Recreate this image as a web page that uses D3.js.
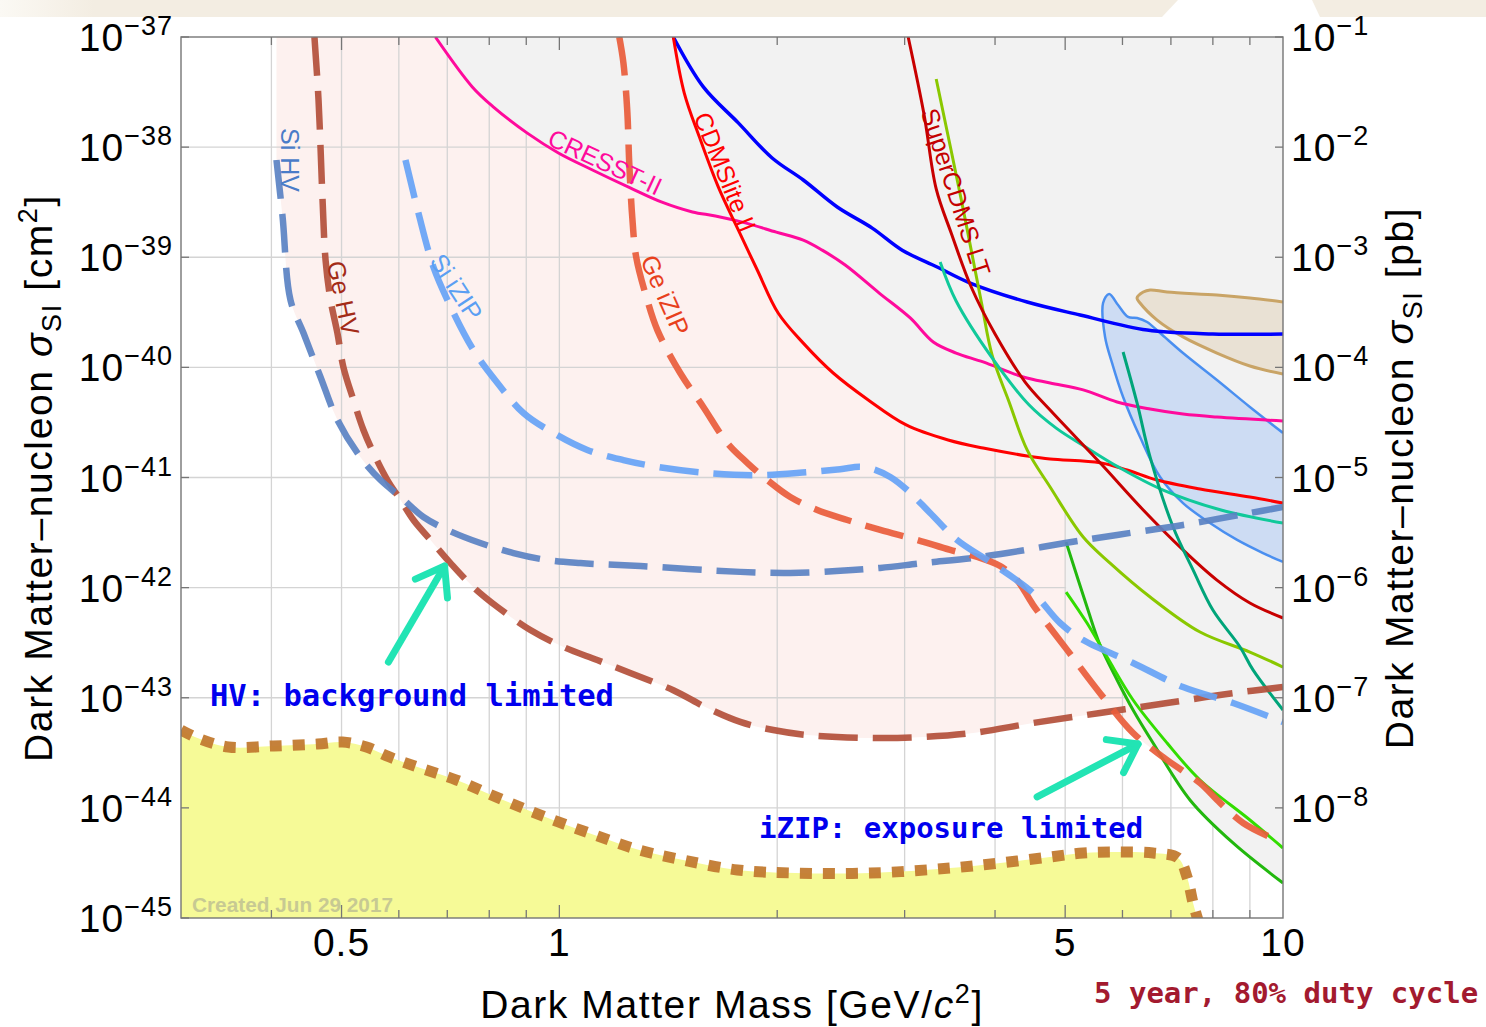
<!DOCTYPE html>
<html>
<head>
<meta charset="utf-8">
<script src="https://cdn.jsdelivr.net/npm/d3@7"></script>
<style>
  html, body { margin: 0; padding: 0; background: #fff; }
  svg { display: block; }
</style>
</head>
<body>
<svg id="chart" width="1486" height="1027"></svg>
<script>
// ---------- Data: [mass in GeV/c^2, spin-independent cross section in cm^2] ----------

// existing exclusion limits
const cresstII = [[0.674,1e-37],[0.758,3.52e-38],[0.811,2.31e-38],[0.903,1.34e-38],[0.997,8.85e-39],[1.111,6.20e-39],[1.253,4.26e-39],[1.383,3.18e-39],[1.527,2.58e-39],[1.643,2.37e-39],[1.807,2.05e-39],[1.994,1.69e-39],[2.173,1.43e-39],[2.308,1.16e-39],[2.483,8.5e-40],[2.767,4.73e-40],[3.054,2.81e-40],[3.286,1.70e-40],[3.534,1.35e-40],[3.851,1.12e-40],[4.375,8.18e-41],[4.766,7.21e-41],[5.295,6.24e-41],[5.898,4.85e-41],[6.552,4.19e-41],[7.275,3.77e-41],[8.104,3.54e-41],[10,3.26e-41]];
const blueLimit = [[1.437,1e-37],[1.581,3.52e-38],[1.767,1.66e-38],[1.968,7.97e-39],[2.173,5.03e-39],[2.421,2.86e-39],[2.706,1.84e-39],[2.977,1.16e-39],[3.327,8.15e-40],[3.696,5.83e-40],[4.43,3.92e-40],[5.244,2.99e-40],[6.49,2.18e-40],[8.0,2.01e-40],[10,2.01e-40]];
const cdmsliteII = [[1.437,1e-37],[1.488,3.10e-38],[1.561,1.24e-38],[1.658,4.35e-39],[1.767,1.77e-39],[1.877,7.66e-40],[2.006,3.12e-40],[2.173,1.66e-40],[2.39,8.89e-41],[2.672,5.06e-41],[3.015,3.0e-41],[3.445,2.19e-41],[3.851,1.85e-41],[4.43,1.57e-41],[4.766,1.47e-41],[5.587,1.36e-41],[6.09,1.17e-41],[6.699,9.48e-42],[7.68,7.87e-42],[9.0,6.65e-42],[10,5.86e-42]];
const superCdmsLT = [[3.034,1e-37],[3.192,1.96e-38],[3.317,4.17e-39],[3.479,1.66e-39],[3.708,5.37e-40],[4.0,2.01e-40],[4.402,7.36e-41],[4.766,4.10e-41],[5.587,1.36e-41],[6.41,5.07e-42],[7.275,2.20e-42],[8.104,1.17e-42],[9.0,7.25e-43],[10,5.30e-43]];
const limeLimit = [[3.317,4.16e-38],[3.591,3.38e-39],[3.827,4.01e-40],[3.963,1.29e-40],[4.183,4.85e-41],[4.43,1.78e-41],[4.766,8.2e-42],[5.295,2.88e-42],[5.768,1.67e-42],[6.552,8.22e-43],[7.68,3.95e-43],[9.0,2.60e-43],[10,1.90e-43]];
const tealLimit = [[3.359,9.06e-40],[3.534,4.01e-40],[3.963,1.22e-40],[4.459,4.55e-41],[4.859,2.81e-41],[5.311,1.93e-41],[5.917,1.25e-41],[6.83,7.69e-42],[8.21,5.07e-42],[10,3.86e-42]];
const darkTealLimit = [[6.012,1.38e-40],[6.285,4.75e-41],[6.552,1.53e-41],[7.049,3.55e-42],[7.511,1.45e-42],[8.0,6.26e-43],[8.722,2.89e-43],[9.09,1.79e-43],[10,7.74e-44]];
const greenLimitA = [[5.015,2.59e-42],[5.36,6.67e-43],[5.587,3.01e-43],[5.898,1.45e-43],[6.206,7.74e-44],[6.614,3.88e-44],[7.438,1.18e-44],[8.53,4.80e-45],[10,2.08e-45]];
const greenLimitB = [[5.015,9.12e-43],[5.36,4.77e-43],[5.713,2.34e-43],[6.206,9.54e-44],[6.915,3.88e-44],[7.68,1.79e-44],[9.0,7.76e-45],[10,4.32e-45]];

// signal contours (outline from right end of the upper edge, round the tip, back along the lower edge)
const blueContour = [[10,2.54e-41],[9.0,4.37e-41],[8.104,7.68e-41],[7.275,1.35e-40],[6.763,2.05e-40],[6.489,2.58e-40],[6.285,2.81e-40],[6.108,2.87e-40],[5.917,3.68e-40],[5.751,4.64e-40],[5.641,3.84e-40],[5.677,1.89e-40],[5.804,1.10e-40],[6.012,5.38e-41],[6.345,2.33e-41],[6.763,1.01e-41],[7.275,5.86e-42],[7.926,3.86e-42],[8.642,2.71e-42],[9.384,2.06e-42],[10,1.71e-42]];
const tanContour = [[10,3.92e-40],[9.0,4.27e-40],[8.104,4.54e-40],[6.915,4.83e-40],[6.552,5.05e-40],[6.41,4.83e-40],[6.285,4.27e-40],[6.345,3.84e-40],[6.699,2.69e-40],[7.275,1.89e-40],[8.104,1.35e-40],[9.0,1.03e-40],[10,8.71e-41]];

// SNOLAB projected sensitivities
const siHV = [[0.4065,7.64e-39],[0.4145,2.32e-39],[0.425,4.09e-40],[0.443,2.05e-40],[0.4676,8.18e-41],[0.4935,3.33e-41],[0.531,1.53e-41],[0.566,9.48e-42],[0.6033,6.65e-42],[0.6489,4.38e-42],[0.7003,3.34e-42],[0.7776,2.54e-42],[0.8641,2.06e-42],[0.9625,1.78e-42],[1.069,1.67e-42],[1.294,1.57e-42],[1.778,1.39e-42],[2.085,1.36e-42],[2.444,1.42e-42],[2.776,1.51e-42],[3.183,1.67e-42],[3.731,1.86e-42],[4.157,2.06e-42],[5.0,2.54e-42],[5.898,3.01e-42],[7.275,3.71e-42],[9.0,4.76e-42],[10,5.40e-42]];
const geHV = [[0.4587,1e-37],[0.4647,2.68e-38],[0.4707,3.31e-39],[0.4752,9.44e-40],[0.4828,4.09e-40],[0.4935,2.05e-40],[0.5029,1.01e-40],[0.5193,5.06e-41],[0.5361,2.70e-41],[0.5535,1.67e-41],[0.5785,9.48e-42],[0.6033,6.25e-42],[0.6286,4.11e-42],[0.6635,2.71e-42],[0.7071,1.67e-42],[0.7606,1.01e-42],[0.8212,6.67e-43],[0.9118,4.12e-43],[1.013,2.89e-43],[1.128,2.20e-43],[1.253,1.68e-43],[1.437,1.17e-43],[1.601,8.07e-44],[1.778,6.03e-44],[1.975,5.09e-44],[2.2,4.59e-44],[2.715,4.31e-44],[3.183,4.40e-44],[3.731,4.79e-44],[4.516,5.90e-44],[5.587,7.28e-44],[6.915,8.96e-44],[8.53,1.10e-43],[10,1.25e-43]];
const siIZIP = [[0.6128,7.64e-39],[0.6386,2.52e-39],[0.6698,8.15e-40],[0.7003,4.09e-40],[0.7606,1.44e-40],[0.8212,7.21e-41],[0.8919,3.85e-41],[0.981,2.54e-41],[1.093,1.78e-41],[1.226,1.44e-41],[1.366,1.25e-41],[1.601,1.10e-41],[1.877,1.05e-41],[2.2,1.12e-41],[2.444,1.19e-41],[2.604,1.25e-41],[2.715,1.19e-41],[2.866,1.01e-41],[3.025,7.69e-42],[3.254,4.76e-42],[3.545,2.71e-42],[3.938,1.71e-42],[4.516,8.93e-43],[4.92,4.77e-43],[5.295,3.34e-43],[6.206,2.07e-43],[7.275,1.25e-43],[8.53,8.96e-44],[10,6.03e-44]];
const geIZIP = [[1.21,1e-37],[1.226,5.81e-38],[1.241,2.17e-38],[1.249,7.18e-39],[1.261,2.32e-39],[1.277,1.0e-39],[1.319,4.36e-40],[1.366,2.18e-40],[1.469,8.89e-41],[1.581,4.37e-41],[1.706,2.06e-41],[1.818,1.36e-41],[1.938,9.48e-42],[2.085,6.65e-42],[2.272,5.07e-42],[2.5,4.11e-42],[2.776,3.34e-42],[3.124,2.71e-42],[3.468,2.20e-42],[3.78,1.90e-42],[4.066,1.57e-42],[4.291,1.17e-42],[4.516,6.95e-43],[5.031,2.72e-43],[5.587,1.10e-43],[6.206,4.79e-44],[6.915,2.72e-44],[7.68,1.68e-44],[8.185,1.11e-44],[8.808,7.29e-45],[9.594,5.44e-45]];

// neutrino floor
const neutrinoFloor = [[0.3,5.09e-44],[0.3162,4.31e-44],[0.349,3.57e-44],[0.4027,3.65e-44],[0.4631,3.80e-44],[0.5016,3.96e-44],[0.5413,3.57e-44],[0.5823,2.90e-44],[0.6427,2.30e-44],[0.7209,1.79e-44],[0.8055,1.31e-44],[0.9033,9.57e-45],[0.9968,7.45e-45],[1.118,5.68e-45],[1.29,4.14e-45],[1.483,3.36e-45],[1.762,2.73e-45],[2.118,2.56e-45],[2.689,2.56e-45],[3.467,2.84e-45],[4.066,3.16e-45],[4.766,3.58e-45],[5.295,3.89e-45],[5.898,3.97e-45],[6.614,3.89e-45],[7.161,3.51e-45],[7.368,2.36e-45],[7.511,1.37e-45],[7.632,9.5e-46]];

// annotation arrows: tail -> tip
const arrowHV = [[0.5805,2.11e-43],[0.694,1.57e-42]];
const arrowIZIP = [[4.573,1.26e-44],[6.305,3.80e-44]];

// curve labels: text, mass, cross section, angle, colour
const curveLabels = [
  ['Si HV', 0.425, 7.64e-39, 90, '#4a7cc8'],
  ['Ge HV', 0.503, 4.27e-40, 78, '#a32b17'],
  ['Si iZIP', 0.7209, 5.37e-40, 57, '#5b9ff3'],
  ['Ge iZIP', 1.401, 4.54e-40, 66, '#e8401c'],
  ['CDMSlite II', 1.696, 5.94e-39, 68, '#ff0000'],
  ['CRESST-II', 1.157, 7.33e-39, 25, '#ff0a9c'],
  ['SuperCDMS LT', 3.534, 3.92e-39, 72, '#c40000']
];

// axes
const massGrid = [0.4,0.5,0.6,0.7,0.8,0.9,1,2,3,4,5,6,7,8,9];
const massMajor = [0.5,1,5];
const massLabels = [0.5,1,5,10];
const cm2Exponents = [-37,-38,-39,-40,-41,-42,-43,-44,-45];
const pbExponents = [-1,-2,-3,-4,-5,-6,-7,-8];

// ---------- Layout ----------
const svg = d3.select('#chart');
const PL = 181, PR = 1283, PT = 37, PB = 918;
const x = d3.scaleLog().domain([0.3, 10]).range([PL, PR]);
const y = d3.scaleLog().domain([1e-45, 1e-37]).range([PB, PT]);
const yPb = d3.scaleLog().domain([1e-9, 1e-1]).range([PB, PT]);
const FONT = "'Liberation Sans', Arial, Helvetica, sans-serif";
const MONO = "'DejaVu Sans Mono', monospace";

// header band
const defs = svg.append('defs');
const band = defs.append('linearGradient').attr('id','bandGrad').attr('x1',0).attr('x2',1);
band.append('stop').attr('offset','0').attr('stop-color','#fbf9f4');
band.append('stop').attr('offset','0.08').attr('stop-color','#f3ede2');
band.append('stop').attr('offset','1').attr('stop-color','#f3ede2');
svg.append('path').attr('d','M0,0L1178,0L1162,17L0,17Z').attr('fill','url(#bandGrad)');
svg.append('path').attr('d','M1312,0L1486,0L1486,17L1320,17Z').attr('fill','#f3ede2');

defs.append('clipPath').attr('id','plotClip')
  .append('rect').attr('x',PL).attr('y',PT).attr('width',PR-PL).attr('height',PB-PT);

const plot = svg.append('g').attr('clip-path','url(#plotClip)');

const smooth = d3.line().x(d => x(d[0])).y(d => y(d[1])).curve(d3.curveCatmullRom.alpha(0.5));

function regionAbove(pts) {
  const f = pts[0], l = pts[pts.length - 1];
  return smooth(pts) + `L${x(l[0])},${y(1e-37)}L${x(f[0])},${y(1e-37)}Z`;
}
function regionBelow(pts) {
  const f = pts[0], l = pts[pts.length - 1];
  return smooth(pts) + `L${x(l[0])},${y(1e-46)}L${x(f[0])},${y(1e-46)}Z`;
}

// projected sensitivity region
[siHV, geHV, siIZIP, geIZIP].forEach(c =>
  plot.append('path').attr('d', regionAbove(c)).attr('fill', '#fdf1ef'));

// grid
plot.selectAll('line.vgrid').data(massGrid).join('line').attr('class','vgrid')
  .attr('x1', d => x(d)).attr('x2', d => x(d)).attr('y1', PT).attr('y2', PB)
  .attr('stroke', '#d4d4d4').attr('stroke-width', 1.3);
plot.selectAll('line.hgrid').data(cm2Exponents.slice(1, -1)).join('line').attr('class','hgrid')
  .attr('x1', PL).attr('x2', PR).attr('y1', d => y(Math.pow(10, d))).attr('y2', d => y(Math.pow(10, d)))
  .attr('stroke', '#d4d4d4').attr('stroke-width', 1.3);

// neutrino floor fill
plot.append('path').attr('d', regionBelow(neutrinoFloor)).attr('fill', '#f6fa97');

// excluded region (union of the areas above each current limit)
const limits = [cresstII, blueLimit, cdmsliteII, superCdmsLT, limeLimit, tealLimit, darkTealLimit, greenLimitA, greenLimitB];
limits.forEach(c => plot.append('path').attr('d', regionAbove(c)).attr('fill', '#f2f2f2'));

// signal contours
plot.append('path').attr('d', smooth(tanContour) + 'Z').attr('fill', '#e9e1d4');
plot.append('path').attr('d', smooth(tanContour)).attr('fill', 'none').attr('stroke', '#c9a466').attr('stroke-width', 3);
plot.append('path').attr('d', smooth(blueContour) + 'Z').attr('fill', '#cddcf3');
plot.append('path').attr('d', smooth(blueContour)).attr('fill', 'none').attr('stroke', '#4a8ff0').attr('stroke-width', 2.5);

// current limits
const limitStyles = [
  [blueLimit, '#0000ff', 3.5],
  [cresstII, '#ff0a9c', 3],
  [cdmsliteII, '#ff0000', 3],
  [limeLimit, '#8ac800', 3],
  [tealLimit, '#10c99a', 3],
  [superCdmsLT, '#c80000', 3],
  [darkTealLimit, '#00a57a', 3],
  [greenLimitA, '#22b80e', 3],
  [greenLimitB, '#33dd00', 3]
];
limitStyles.forEach(([c, col, w]) =>
  plot.append('path').attr('d', smooth(c)).attr('fill', 'none').attr('stroke', col).attr('stroke-width', w));

// neutrino floor border
plot.append('path').attr('d', smooth(neutrinoFloor)).attr('fill', 'none')
  .attr('stroke', '#c27a30').attr('stroke-width', 11).attr('stroke-dasharray', '12,11').attr('opacity', 0.95);

// projections (dashed)
const projStyles = [
  [geHV, '#b34f39'],
  [siHV, '#5a82c3'],
  [geIZIP, '#e95c3b'],
  [siIZIP, '#66a3f6']
];
projStyles.forEach(([c, col]) =>
  plot.append('path').attr('d', smooth(c)).attr('fill', 'none').attr('stroke', col)
    .attr('stroke-width', 6.5).attr('stroke-dasharray', '39,15').attr('opacity', 0.92));

// curve labels
curveLabels.forEach(([t, m, s, a, col]) => {
  svg.append('text').attr('transform', `translate(${x(m)},${y(s)}) rotate(${a})`)
    .attr('text-anchor', 'middle').attr('dominant-baseline', 'central')
    .attr('font-family', FONT).attr('font-size', 25).attr('fill', col).text(t);
});

// watermark
svg.append('text').attr('x', 192).attr('y', 912).attr('font-family', "'Liberation Sans Narrow', 'Liberation Sans', sans-serif")
  .attr('font-weight', 'bold').attr('font-size', 21).attr('fill', '#a9aa92').attr('opacity', 0.6)
  .attr('textLength', 201).attr('lengthAdjust', 'spacingAndGlyphs').text('Created Jun 29 2017');

// frame and ticks
const axisCol = '#767676';
svg.append('rect').attr('x', PL).attr('y', PT).attr('width', PR - PL).attr('height', PB - PT)
  .attr('fill', 'none').attr('stroke', axisCol).attr('stroke-width', 1.4);
const tickLen = d => massMajor.includes(d) ? 13 : 8;
svg.selectAll('line.btick').data(massGrid).join('line').attr('class','btick')
  .attr('x1', d => x(d)).attr('x2', d => x(d)).attr('y1', PB).attr('y2', d => PB - tickLen(d))
  .attr('stroke', axisCol).attr('stroke-width', 1.3);
svg.selectAll('line.ttick').data(massGrid).join('line').attr('class','ttick')
  .attr('x1', d => x(d)).attr('x2', d => x(d)).attr('y1', PT).attr('y2', d => PT + tickLen(d))
  .attr('stroke', axisCol).attr('stroke-width', 1.3);
svg.selectAll('line.ltick').data(cm2Exponents).join('line').attr('class','ltick')
  .attr('x1', PL).attr('x2', PL + 8).attr('y1', d => y(Math.pow(10, d))).attr('y2', d => y(Math.pow(10, d)))
  .attr('stroke', axisCol).attr('stroke-width', 1.3);
svg.selectAll('line.rtick').data(pbExponents).join('line').attr('class','rtick')
  .attr('x1', PR).attr('x2', PR - 8).attr('y1', d => yPb(Math.pow(10, d))).attr('y2', d => yPb(Math.pow(10, d)))
  .attr('stroke', axisCol).attr('stroke-width', 1.3);

// tick labels
function powerLabel(sel, exp) {
  sel.append('tspan').text('10');
  sel.append('tspan').attr('font-size', 27).attr('dy', -16).text('\u2212' + Math.abs(exp));
}
cm2Exponents.forEach(e => {
  const t = svg.append('text').attr('x', 173).attr('y', y(Math.pow(10, e)) + 14)
    .attr('text-anchor', 'end').attr('font-family', FONT).attr('font-size', 39)
    .attr('letter-spacing', 1).attr('fill', '#000');
  powerLabel(t, e);
});
pbExponents.forEach(e => {
  const t = svg.append('text').attr('x', 1291).attr('y', yPb(Math.pow(10, e)) + 14)
    .attr('font-family', FONT).attr('font-size', 39).attr('letter-spacing', 1).attr('fill', '#000');
  powerLabel(t, e);
});
massLabels.forEach(m => {
  svg.append('text').attr('x', x(m)).attr('y', 956).attr('text-anchor', 'middle')
    .attr('font-family', FONT).attr('font-size', 39).attr('letter-spacing', 1).attr('fill', '#000')
    .text(m === 0.5 ? '0.5' : String(m));
});

// axis titles
function sigmaTitle(g, unit) {
  g.append('tspan').text('Dark Matter\u2013nucleon ');
  g.append('tspan').attr('font-style', 'italic').text('\u03c3');
  g.append('tspan').attr('font-size', 27).attr('dy', 9).text('SI');
  g.append('tspan').attr('dy', -9).text(' [' + unit);
}
const lt = svg.append('text').attr('transform', 'translate(52,478) rotate(-90)').attr('text-anchor', 'middle')
  .attr('font-family', FONT).attr('font-size', 39).attr('letter-spacing', 1.6).attr('fill', '#000');
sigmaTitle(lt, 'cm');
lt.append('tspan').attr('font-size', 27).attr('dy', -15).text('2');
lt.append('tspan').attr('dy', 15).text(']');

const rt = svg.append('text').attr('transform', 'translate(1413,478) rotate(-90)').attr('text-anchor', 'middle')
  .attr('font-family', FONT).attr('font-size', 39).attr('letter-spacing', 1.6).attr('fill', '#000');
sigmaTitle(rt, 'pb');
rt.append('tspan').text(']');

const bt = svg.append('text').attr('x', (PL + PR) / 2).attr('y', 1018).attr('text-anchor', 'middle')
  .attr('font-family', FONT).attr('font-size', 39).attr('letter-spacing', 1.6).attr('fill', '#000');
bt.append('tspan').text('Dark Matter Mass [GeV/');
bt.append('tspan').attr('font-style', 'italic').text('c');
bt.append('tspan').attr('font-size', 27).attr('dy', -15).text('2');
bt.append('tspan').attr('dy', 15).text(']');

// arrows
function drawArrow(a) {
  const x0 = x(a[0][0]), y0 = y(a[0][1]), x1 = x(a[1][0]), y1 = y(a[1][1]);
  const ang = Math.atan2(y1 - y0, x1 - x0), L = 32, spread = 0.62;
  const h1 = [x1 - L * Math.cos(ang - spread), y1 - L * Math.sin(ang - spread)];
  const h2 = [x1 - L * Math.cos(ang + spread), y1 - L * Math.sin(ang + spread)];
  const g = svg.append('g').attr('stroke', '#22e4b4').attr('stroke-width', 7)
    .attr('stroke-linecap', 'round').attr('stroke-linejoin', 'round').attr('fill', 'none');
  g.append('path').attr('d', `M${x0},${y0}L${x1},${y1}`);
  g.append('path').attr('d', `M${h1[0]},${h1[1]}L${x1},${y1}L${h2[0]},${h2[1]}`);
}
drawArrow(arrowHV);
drawArrow(arrowIZIP);

// annotations
svg.append('text').attr('x', 210).attr('y', 706).attr('font-family', MONO).attr('font-weight', 'bold')
  .attr('font-size', 30.5).attr('fill', '#0000ee').text('HV: background limited');
svg.append('text').attr('x', 759).attr('y', 838).attr('font-family', MONO).attr('font-weight', 'bold')
  .attr('font-size', 29).attr('fill', '#0000ee').text('iZIP: exposure limited');
svg.append('text').attr('x', 1094).attr('y', 1003).attr('font-family', MONO).attr('font-weight', 'bold')
  .attr('font-size', 29).attr('fill', '#a31a2f').text('5 year, 80% duty cycle');
</script>
</body>
</html>
